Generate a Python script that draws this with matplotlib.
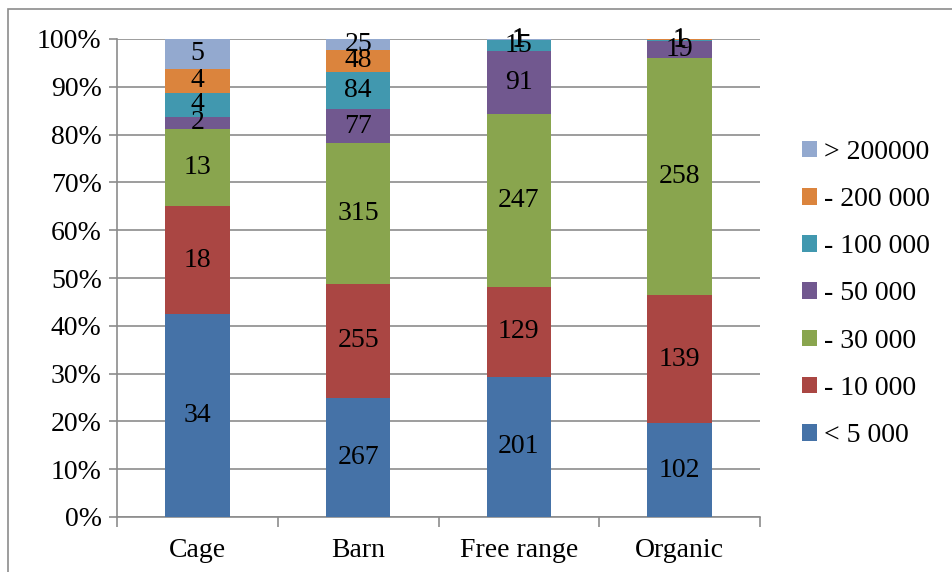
import numpy as np
import matplotlib.pyplot as plt
from matplotlib.patches import Rectangle

plt.rcParams['font.family'] = ['Liberation Serif', 'DejaVu Serif']

categories = ["Cage", "Barn", "Free range", "Organic"]
series_names = ["< 5 000", "- 10 000", "- 30 000", "- 50 000",
                "- 100 000", "- 200 000", "> 200000"]

# counts per size class, bottom to top
lt_5000 = [34, 267, 201, 102]
to_10000 = [18, 255, 129, 139]
to_30000 = [13, 315, 247, 258]
to_50000 = [2, 77, 91, 19]
to_100000 = [4, 84, 15, 1]
to_200000 = [4, 48, 1, 1]
gt_200000 = [5, 25, 1, 0]

colors = ["#4572A7", "#AA4643", "#89A54E", "#71588F",
          "#4198AF", "#DB843D", "#93A9CF"]

counts = np.array([lt_5000, to_10000, to_30000, to_50000,
                   to_100000, to_200000, gt_200000], dtype=float)
shares = counts / counts.sum(axis=0) * 100

fig = plt.figure(figsize=(9.52, 5.72), dpi=100)
ax = fig.add_axes([117 / 952, 55 / 572, 643 / 952, 478 / 572])

# outer chart border
fig.patches.append(Rectangle((8 / 952, -0.1), 1.2, 1.1 - 9 / 572,
                             transform=fig.transFigure, fill=False,
                             edgecolor="#8c8c8c", linewidth=1.2))

x = np.arange(len(categories))
bottom = np.zeros(len(categories))
handles = []
for i, name in enumerate(series_names):
    bars = ax.bar(x, shares[i], 0.4, bottom=bottom, color=colors[i],
                  label=name, zorder=3)
    handles.append(bars)
    for j in range(len(categories)):
        if counts[i, j] > 0:
            ax.text(x[j], bottom[j] + shares[i, j] / 2, f"{int(counts[i, j])}",
                    ha="center", va="center", fontsize=20, color="black",
                    zorder=4)
    bottom += shares[i]

ax.set_xlim(-0.5, 3.5)
ax.set_ylim(0, 100)
ax.set_yticks(np.arange(0, 101, 10))
ax.set_yticklabels([f"{v}%" for v in range(0, 101, 10)], fontsize=20)
ax.yaxis.grid(True, color="#8c8c8c", linewidth=1.2, zorder=0)

ax.set_xticks(np.arange(-0.5, 4, 1))
ax.set_xticklabels([])
ax.set_xticks(x, minor=True)
ax.set_xticklabels(categories, minor=True, fontsize=20)
ax.tick_params(axis="x", which="major", length=7, color="#8c8c8c", width=1.2)
ax.tick_params(axis="x", which="minor", length=0, pad=15)
ax.tick_params(axis="y", length=6, color="#8c8c8c", width=1.2, pad=5)

for side in ["top", "right"]:
    ax.spines[side].set_visible(False)
for side in ["left", "bottom"]:
    ax.spines[side].set_color("#8c8c8c")
    ax.spines[side].set_linewidth(1.2)

leg = fig.legend(handles[::-1], series_names[::-1], loc="center left",
                 bbox_to_anchor=(777 / 952, 1 - 294 / 572), frameon=False,
                 fontsize=20, handlelength=0.55, handleheight=0.55,
                 handletextpad=0.25, labelspacing=0.8)

fig.savefig("out.png", dpi=100)
